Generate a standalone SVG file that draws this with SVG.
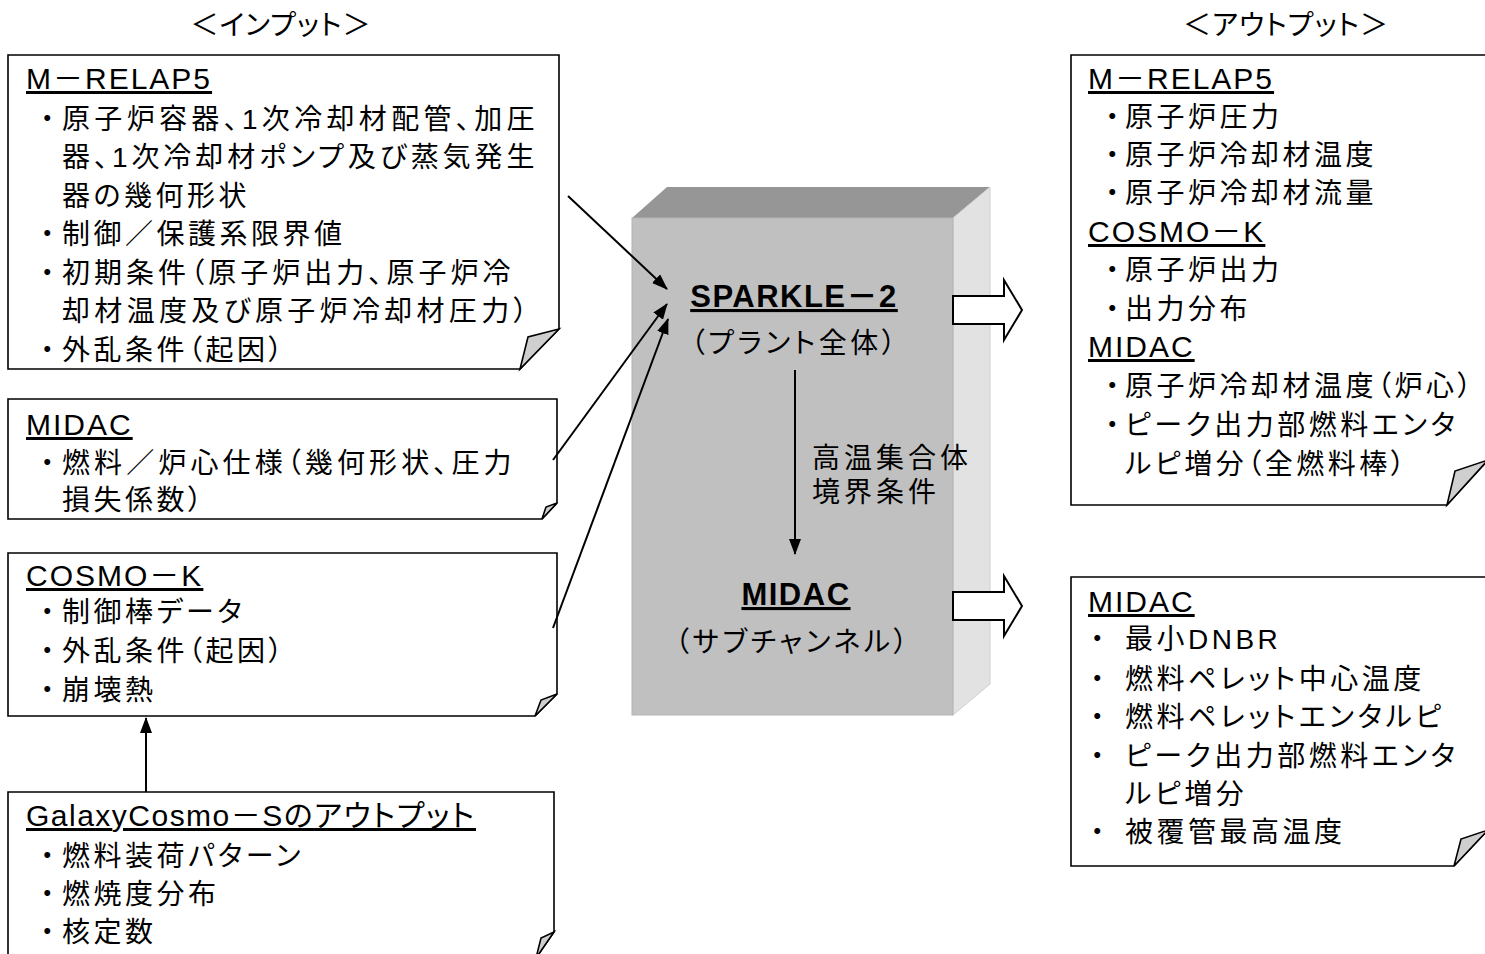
<svg xmlns="http://www.w3.org/2000/svg" width="1485" height="954" viewBox="0 0 1485 954">
<style>
.bg{fill:#fff}
.box{fill:#fff;stroke:#000;stroke-width:1.6}
.fold{fill:#cfcfcf;stroke:#000;stroke-width:1.6;stroke-linejoin:miter}
.t{font-family:"Liberation Sans","Noto Sans CJK JP",sans-serif;font-size:28px;letter-spacing:3.5px;font-feature-settings:"palt" 1;fill:#000}
.h{font-size:30px;letter-spacing:2px;text-decoration:underline}
.b{font-weight:bold;font-size:31px;letter-spacing:1.5px}
.title{letter-spacing:1px}
.con{fill:none;stroke:#000;stroke-width:2}
.blk{fill:#fff;stroke:#000;stroke-width:2}
</style>
<defs>
<marker id="ah" markerUnits="userSpaceOnUse" markerWidth="16" markerHeight="12" viewBox="0 0 16 12" refX="15" refY="6" orient="auto">
<path d="M0,0 L16,6 L0,12 Z" fill="#000"/>
</marker>
</defs>
<rect class="bg" x="0" y="0" width="1485" height="954"/>

<g id="titles">
<text class="t title" x="281" y="35" text-anchor="middle">＜インプット＞</text>
<text class="t title" x="1286" y="35" text-anchor="middle">＜アウトプット＞</text>
</g>

<g id="in-mrelap5">
<path class="box" d="M8,55 H559 V329 L520,369 H8 Z"/>
<path class="fold" d="M559,329 L528,337 L520,369 Z"/>
<text class="t h" x="26" y="89">M－RELAP5</text>
<text class="t" y="128.5"><tspan x="49" text-anchor="middle">・</tspan><tspan x="62" textLength="476" lengthAdjust="spacing">原子炉容器、1次冷却材配管、加圧</tspan></text>
<text class="t" x="62" y="167" textLength="476" lengthAdjust="spacing">器、1次冷却材ポンプ及び蒸気発生</text>
<text class="t" x="62" y="205.5">器の幾何形状</text>
<text class="t" y="244"><tspan x="49" text-anchor="middle">・</tspan><tspan x="62">制御／保護系限界値</tspan></text>
<text class="t" y="282.5"><tspan x="49" text-anchor="middle">・</tspan><tspan x="62" textLength="452" lengthAdjust="spacing">初期条件（原子炉出力、原子炉冷</tspan></text>
<text class="t" x="62" y="321" textLength="469" lengthAdjust="spacing">却材温度及び原子炉冷却材圧力）</text>
<text class="t" y="359.5"><tspan x="49" text-anchor="middle">・</tspan><tspan x="62">外乱条件（起因）</tspan></text>
</g>

<g id="in-midac">
<path class="box" d="M8,399 H557 V503 L542,519 H8 Z"/>
<path class="fold" d="M557,503 L546,507 L542,519 Z"/>
<text class="t h" x="26" y="435">MIDAC</text>
<text class="t" y="472.5"><tspan x="49" text-anchor="middle">・</tspan><tspan x="62" textLength="453" lengthAdjust="spacing">燃料／炉心仕様（幾何形状、圧力</tspan></text>
<text class="t" x="62" y="509.5">損失係数）</text>
</g>

<g id="in-cosmok">
<path class="box" d="M8,553 H557 V694 L535,716 H8 Z"/>
<path class="fold" d="M557,694 L541,700 L535,716 Z"/>
<text class="t h" x="26" y="586">COSMO－K</text>
<text class="t" y="621.5"><tspan x="49" text-anchor="middle">・</tspan><tspan x="62">制御棒データ</tspan></text>
<text class="t" y="661"><tspan x="49" text-anchor="middle">・</tspan><tspan x="62">外乱条件（起因）</tspan></text>
<text class="t" y="699.5"><tspan x="49" text-anchor="middle">・</tspan><tspan x="62">崩壊熱</tspan></text>
</g>

<g id="in-galaxy">
<path class="box" d="M8,958 V792 H554 V932 L536,958 Z"/>
<path class="fold" d="M554,932 L541,938 L536,958 Z"/>
<text class="t h" x="26" y="826" textLength="450" lengthAdjust="spacing">GalaxyCosmo－Sのアウトプット</text>
<text class="t" y="865.5"><tspan x="49" text-anchor="middle">・</tspan><tspan x="62">燃料装荷パターン</tspan></text>
<text class="t" y="903.5"><tspan x="49" text-anchor="middle">・</tspan><tspan x="62">燃焼度分布</tspan></text>
<text class="t" y="941.5"><tspan x="49" text-anchor="middle">・</tspan><tspan x="62">核定数</tspan></text>
</g>

<g id="center-block">
<polygon points="632,218 667,187 990,187 953,218" fill="#969696"/>
<polygon points="953,218 990,187 990,684 953,715" fill="#e2e2e2" stroke="#cfcfcf" stroke-width="1"/>
<rect x="632" y="218" width="321" height="497" fill="#c0c0c0" stroke="#b4b4b4" stroke-width="1"/>
<text class="t h b" x="794" y="307" text-anchor="middle">SPARKLE－2</text>
<text class="t" x="795" y="352.5" text-anchor="middle">（プラント全体）</text>
<text class="t h b" x="796" y="605" text-anchor="middle">MIDAC</text>
<text class="t" x="793" y="651.5" text-anchor="middle">（サブチャンネル）</text>
<text class="t" x="812" y="467.5" style="letter-spacing:4px">高温集合体</text>
<text class="t" x="812" y="501.5" style="letter-spacing:4px">境界条件</text>
</g>

<g id="out-1">
<path class="box" d="M1071,55 H1488 V460 L1447,505 H1071 Z"/>
<path class="fold" d="M1488,460 L1455,471 L1447,505 Z"/>
<text class="t h" x="1088" y="89">M－RELAP5</text>
<text class="t" y="126.5"><tspan x="1114" text-anchor="middle">・</tspan><tspan x="1125">原子炉圧力</tspan></text>
<text class="t" y="164.5"><tspan x="1114" text-anchor="middle">・</tspan><tspan x="1125">原子炉冷却材温度</tspan></text>
<text class="t" y="202.5"><tspan x="1114" text-anchor="middle">・</tspan><tspan x="1125">原子炉冷却材流量</tspan></text>
<text class="t h" x="1088" y="242">COSMO－K</text>
<text class="t" y="279.5"><tspan x="1114" text-anchor="middle">・</tspan><tspan x="1125">原子炉出力</tspan></text>
<text class="t" y="318.5"><tspan x="1114" text-anchor="middle">・</tspan><tspan x="1125">出力分布</tspan></text>
<text class="t h" x="1088" y="357">MIDAC</text>
<text class="t" y="395.5"><tspan x="1114" text-anchor="middle">・</tspan><tspan x="1125">原子炉冷却材温度（炉心）</tspan></text>
<text class="t" y="434.5"><tspan x="1114" text-anchor="middle">・</tspan><tspan x="1125">ピーク出力部燃料エンタ</tspan></text>
<text class="t" x="1125" y="473.5">ルピ増分（全燃料棒）</text>
</g>

<g id="out-2">
<path class="box" d="M1071,577 H1488 V830 L1454,866 H1071 Z"/>
<path class="fold" d="M1488,830 L1461,839 L1454,866 Z"/>
<text class="t h" x="1088" y="612">MIDAC</text>
<text class="t" y="648.5"><tspan x="1099" text-anchor="middle">・</tspan><tspan x="1125">最小DNBR</tspan></text>
<text class="t" y="688.5"><tspan x="1099" text-anchor="middle">・</tspan><tspan x="1125">燃料ペレット中心温度</tspan></text>
<text class="t" y="726.5"><tspan x="1099" text-anchor="middle">・</tspan><tspan x="1125">燃料ペレットエンタルピ</tspan></text>
<text class="t" y="765.5"><tspan x="1099" text-anchor="middle">・</tspan><tspan x="1125">ピーク出力部燃料エンタ</tspan></text>
<text class="t" x="1125" y="803.5">ルピ増分</text>
<text class="t" y="841.5"><tspan x="1099" text-anchor="middle">・</tspan><tspan x="1125">被覆管最高温度</tspan></text>
</g>

<g id="connectors">
<line class="con" x1="568" y1="196" x2="667" y2="289" marker-end="url(#ah)"/>
<line class="con" x1="553" y1="460" x2="667" y2="304" marker-end="url(#ah)"/>
<line class="con" x1="553" y1="628" x2="668" y2="319" marker-end="url(#ah)"/>
<line class="con" x1="146" y1="792" x2="146" y2="718" marker-end="url(#ah)"/>
<line class="con" x1="795" y1="370" x2="795" y2="554" marker-end="url(#ah)"/>
<polygon class="blk" points="953,296 1004,296 1004,280 1022,310 1004,340 1004,324 953,324"/>
<polygon class="blk" points="953,592 1004,592 1004,576 1022,606 1004,636 1004,620 953,620"/>
</g>
</svg>
